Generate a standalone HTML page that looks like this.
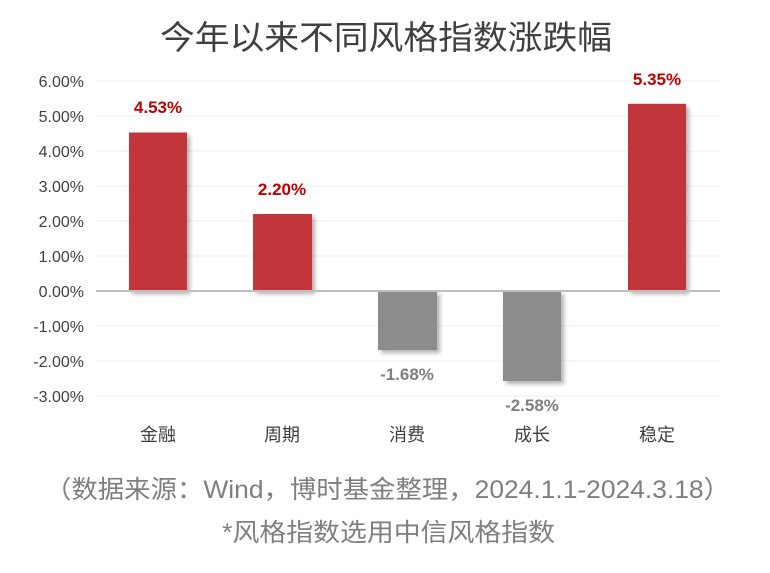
<!DOCTYPE html>
<html><head><meta charset="utf-8"><style>
body{margin:0;background:#fff;}
svg text{font-family:"Liberation Sans","Noto Sans CJK SC",sans-serif;}
</style></head><body>
<svg width="770" height="568" xmlns="http://www.w3.org/2000/svg">
<defs><filter id="sh" x="-20%" y="-20%" width="150%" height="150%"><feDropShadow dx="3" dy="3" stdDeviation="2" flood-color="#000" flood-opacity="0.3"/></filter></defs>
<rect width="770" height="568" fill="#fff"/>
<text x="160" y="49" font-size="33" fill="#404040" textLength="452" lengthAdjust="spacingAndGlyphs">今年以来不同风格指数涨跌幅</text>
<g stroke="#eeeeee" stroke-width="1">
<line x1="96" x2="720" y1="81" y2="81"/><line x1="96" x2="720" y1="116" y2="116"/><line x1="96" x2="720" y1="151" y2="151"/><line x1="96" x2="720" y1="186" y2="186"/><line x1="96" x2="720" y1="221" y2="221"/><line x1="96" x2="720" y1="256" y2="256"/><line x1="96" x2="720" y1="326" y2="326"/><line x1="96" x2="720" y1="361" y2="361"/><line x1="96" x2="720" y1="396" y2="396"/>
</g>
<g font-size="16" fill="#404040" text-anchor="end">
<text x="84" y="87">6.00%</text><text x="84" y="122">5.00%</text><text x="84" y="157">4.00%</text><text x="84" y="192">3.00%</text><text x="84" y="227">2.00%</text><text x="84" y="262">1.00%</text><text x="84" y="297">0.00%</text><text x="84" y="332">-1.00%</text><text x="84" y="367">-2.00%</text><text x="84" y="402">-3.00%</text>
</g>
<g filter="url(#sh)">
<rect x="129" y="132.5" width="58" height="158.5" fill="#c1363b"/>
<rect x="253" y="214" width="59" height="77" fill="#c1363b"/>
<rect x="378" y="291" width="59" height="59" fill="#8c8c8c"/>
<rect x="503" y="291" width="58" height="90" fill="#8c8c8c"/>
<rect x="628" y="103.8" width="58" height="187.2" fill="#c1363b"/>
</g>
<line x1="96" x2="720" y1="291" y2="291" stroke="#bfbfbf" stroke-width="2"/>
<g font-size="17" font-weight="bold" text-anchor="middle">
<text x="158" y="113" fill="#c00000">4.53%</text>
<text x="282" y="195" fill="#c00000">2.20%</text>
<text x="657" y="85" fill="#c00000">5.35%</text>
<text x="407" y="380" fill="#7f7f7f">-1.68%</text>
<text x="532" y="411" fill="#7f7f7f">-2.58%</text>
</g>
<g font-size="18" fill="#404040" text-anchor="middle">
<text x="158" y="441">金融</text><text x="282" y="441">周期</text><text x="407" y="441">消费</text><text x="532" y="441">成长</text><text x="657" y="441">稳定</text>
</g>
<text x="45" y="498" font-size="25" fill="#7f7f7f" textLength="685" lengthAdjust="spacingAndGlyphs">（数据来源：Wind，博时基金整理，2024.1.1-2024.3.18）</text>
<text x="222" y="541" font-size="25" fill="#7f7f7f" textLength="333" lengthAdjust="spacingAndGlyphs">*风格指数选用中信风格指数</text>
</svg>
</body></html>
